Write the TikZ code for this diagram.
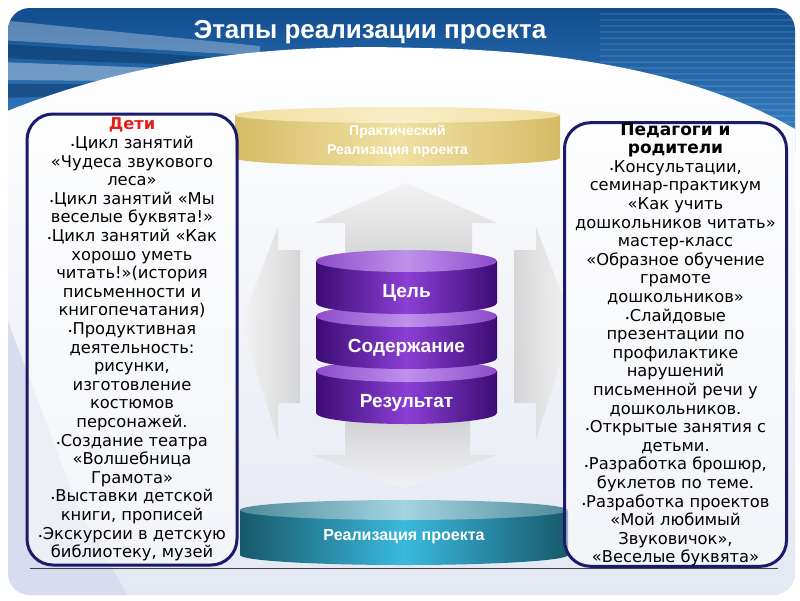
\documentclass[tikz,border=0pt]{standalone}
\usepackage{fontspec}
\setmainfont{DejaVu Sans}
\newfontfamily\headfont{Liberation Sans}
\usepackage{tikz}
\usetikzlibrary{positioning, shapes, shadings}

\definecolor{boxnavy}{HTML}{1B1A6B}
\definecolor{kidsred}{HTML}{E3211C}
\definecolor{purpleedge}{HTML}{3C0C74}
\definecolor{purplemid}{HTML}{8B3FD4}
\definecolor{purpletopA}{HTML}{8E4CCB}
\definecolor{purpletopB}{HTML}{BE92EA}
\definecolor{golddark}{HTML}{D6BC66}
\definecolor{goldmid}{HTML}{F0E0A2}
\definecolor{goldtop}{HTML}{F8EEC6}
\definecolor{tealdark}{HTML}{17596B}
\definecolor{tealmid}{HTML}{3AB9DD}
\definecolor{tealtop}{HTML}{A4D4E2}
\definecolor{bandtop}{HTML}{0F4A8C}
\definecolor{bandbot}{HTML}{3A84C8}
\definecolor{slidebg}{HTML}{E4E8F2}
\definecolor{lavender}{HTML}{D8DCEE}

\newcommand{\bulletdot}{{\fontsize{8}{8}\selectfont•}}
\newcommand{\sidehead}[1]{{\bfseries\fontsize{17}{18.6}\selectfont #1}}

\tikzset{
  sidebox/.style={draw=boxnavy, line width=3pt, rounded corners=26pt, fill=white,
    fill opacity=0.55, text opacity=1, align=center, inner sep=0pt,
    font=\fontsize{16.3}{18.6}\selectfont},
  cyllabel/.style={text=white, font=\headfont\bfseries\fontsize{19}{22}\selectfont},
  disklabel/.style={text=white, align=center, font=\headfont\bfseries\fontsize{14}{19}\selectfont},
  bigarrow/.style={draw=none, fill opacity=0.8}
}

\begin{document}
\begin{tikzpicture}[x=1pt, y=-1pt]
\useasboundingbox (0,0) rectangle (800,600);

% slide background
\begin{scope}
\clip[rounded corners=22pt] (8,8) rectangle (795,595);
\fill[slidebg] (0,0) rectangle (800,600);
\shade[top color=bandtop, bottom color=bandbot] (0,0) rectangle (800,150);
\fill[white, opacity=0.3] (0,20) -- (260,46) -- (260,56) -- (0,40) -- cycle;
\fill[bandtop!70!black, opacity=0.5] (0,44) -- (260,60) -- (260,68) -- (0,58) -- cycle;
\fill[white, opacity=0.35] (0,62) -- (260,72) -- (260,82) -- (0,80) -- cycle;
\fill[bandtop!70!black, opacity=0.5] (0,84) -- (220,84) -- (220,92) -- (0,98) -- cycle;
\foreach \s in {14,20,...,140}
  \draw[white, opacity=0.1, line width=1.5pt] (600,\s) -- (800,\s);
\shade[top color=white, bottom color=slidebg] (0,114) .. controls (150,52) and (300,44) .. (420,48)
  .. controls (560,50) and (700,72) .. (800,132) -- (800,600) -- (0,600) -- cycle;
\fill[lavender] (0,300) -- (78,507) -- (130,600) -- (0,600) -- cycle;
\end{scope}

\node[text=white, font=\headfont\bfseries\fontsize{26}{30}\selectfont] (title) at (370,32) {Этапы реализации проекта};

% gold disk
\shade[left color=golddark, right color=golddark, middle color=goldmid]
  (235,115) -- (235,158) arc[start angle=180, end angle=0, x radius=162.5, y radius=8] -- (560,115) -- cycle;
\shade[left color=goldmid, right color=goldmid, middle color=goldtop] (397.5,115) ellipse [x radius=162.5, y radius=8];
\node[disklabel] (practice) at (397.5,141) {Практический\\Реализация проекта};

% grey arrows
\shade[bigarrow, top color=gray!10, bottom color=gray!40]
  (407,183) -- (497,223) -- (472,223) -- (472,262) -- (345,262) -- (345,223) -- (315,223) -- cycle;
\shade[bigarrow, left color=gray!8, right color=gray!38]
  (241,323) -- (278,227) -- (278,250) -- (300,250) -- (300,403) -- (278,403) -- (278,440) -- cycle;
\shade[bigarrow, left color=gray!38, right color=gray!8]
  (573,323) -- (536,227) -- (536,250) -- (514,250) -- (514,403) -- (536,403) -- (536,440) -- cycle;
\shade[bigarrow, top color=gray!40, bottom color=gray!8]
  (345,420) -- (470,420) -- (470,455) -- (497,455) -- (403,488) -- (313,455) -- (345,455) -- cycle;

% purple stack
\foreach \ty/\nm/\txt in {371/result/Результат, 316/content/Содержание, 261/goal/Цель} {
  \shade[left color=purpleedge, right color=purpleedge, middle color=purplemid]
    (316,\ty) -- (316,\ty+42) arc[start angle=180, end angle=0, x radius=90.5, y radius=11] -- (497,\ty) -- cycle;
  \shade[left color=purpletopA, right color=purpletopA, middle color=purpletopB]
    (406.5,\ty) ellipse [x radius=90.5, y radius=11];
  \node[cyllabel] (\nm) at (406.5,\ty+32) {\txt};
}

% teal disk
\shade[left color=tealdark, right color=tealdark, middle color=tealmid]
  (240,510) -- (240,555) arc[start angle=180, end angle=0, x radius=164, y radius=10] -- (568,510) -- cycle;
\shade[left color=tealdark!60!tealtop, right color=tealdark!60!tealtop, middle color=tealtop]
  (404,510) ellipse [x radius=164, y radius=10];
\node[disklabel, font=\headfont\bfseries\fontsize{16}{19}\selectfont] (realise) at (404,537) {Реализация проекта};

% side boxes
\node[sidebox, minimum width=210pt, minimum height=451pt] (kids) at (132,339.5) {%
{\bfseries\color{kidsred}Дети}\\
\bulletdot Цикл занятий\\
«Чудеса звукового\\
леса»\\
\bulletdot Цикл занятий «Мы\\
веселые буквята!»\\
\bulletdot Цикл занятий «Как\\
хорошо уметь\\
читать!»(история\\
письменности и\\
книгопечатания)\\
\bulletdot Продуктивная\\
деятельность:\\
рисунки,\\
изготовление\\
костюмов\\
персонажей.\\
\bulletdot Создание театра\\
«Волшебница\\
Грамота»\\
\bulletdot Выставки детской\\
книги, прописей\\
\bulletdot Экскурсии в детскую\\
библиотеку, музей};

\node[sidebox, minimum width=222pt, minimum height=443pt] (adults) at (675.5,344.5) {%
\sidehead{Педагоги и}\\
\sidehead{родители}\\
\bulletdot Консультации,\\
семинар-практикум\\
«Как учить\\
дошкольников читать»\\
мастер-класс\\
«Образное обучение\\
грамоте\\
дошкольников»\\
\bulletdot Слайдовые\\
презентации по\\
профилактике\\
нарушений\\
письменной речи у\\
дошкольников.\\
\bulletdot Открытые занятия с\\
детьми.\\
\bulletdot Разработка брошюр,\\
буклетов по теме.\\
\bulletdot Разработка проектов\\
«Мой любимый\\
Звуковичок»,\\
«Веселые буквята»};

\draw[black!75, line width=0.8pt] (30,568) -- (778,568);
\end{tikzpicture}
\end{document}
